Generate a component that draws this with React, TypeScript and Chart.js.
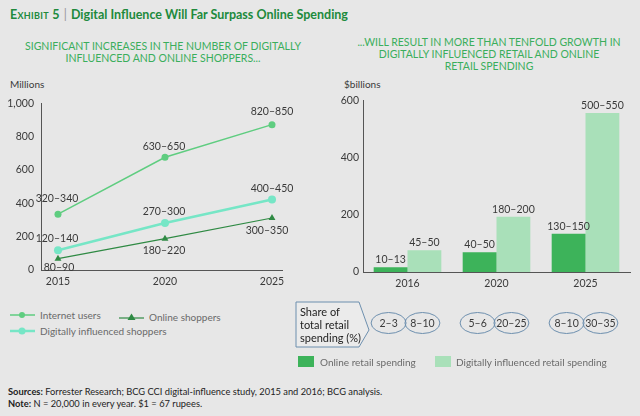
import React, { useEffect, useRef } from 'react';
import { Chart, registerables } from 'chart.js';
Chart.register(...registerables);

// ---------- Data ----------
const years = [2015, 2020, 2025];
const internetUsers = [335, 676, 872];
const digitallyInfluenced = [118, 282, 423];
const onlineShoppers = [68, 188, 312];
const internetLabels = ['320–340', '630–650', '820–850'];
const digitalLabels = ['120–140', '270–300', '400–450'];
const onlineLabels = ['80–90', '180–220', '300–350'];
const millionsTicks = [0, 200, 400, 600, 800, 1000];

const spendYears = ['2016', '2020', '2025'];
const onlineSpending = [17, 69, 134];
const digitalSpending = [76, 193, 556];
const onlineSpendLabels = ['10–13', '40–50', '130–150'];
const digitalSpendLabels = ['45–50', '180–200', '500–550'];
const onlineShare = ['2–3', '5–6', '8–10'];
const digitalShare = ['8–10', '20–25', '30–35'];
const billionsTicks = [0, 200, 400, 600];

// ---------- Styles ----------
const FONT = 'Lato, "Open Sans", sans-serif';
const C_INTERNET = '#5fcd80';
const C_DIGITAL = '#76e6c6';
const C_ONLINE = '#2f8a44';
const C_BAR_DARK = '#3db35a';
const C_BAR_LIGHT = '#a9e0b9';
const C_AXIS = '#555555';
const C_TEXT = '#3a3a3a';

const lineLabelOffsets = [
  [[-1, -16], [-1, -11], [0, -13]],
  [[-1, -12], [-1, -11], [0, -11]],
  [[1, 9], [-1, 12], [-5, 13]],
];

function LeftChart() {
  const ref = useRef<HTMLCanvasElement>(null);
  useEffect(() => {
    const labelSets = [internetLabels, digitalLabels, onlineLabels];
    const labelPlugin = {
      id: 'lineLabels',
      afterDatasetsDraw(chart: any) {
        const ctx = chart.ctx;
        ctx.save();
        ctx.font = `10.5px ${FONT}`;
        ctx.fillStyle = C_TEXT;
        ctx.textAlign = 'center';
        ctx.textBaseline = 'middle';
        chart.data.datasets.forEach((_: any, i: number) => {
          const meta = chart.getDatasetMeta(i);
          meta.data.forEach((pt: any, j: number) => {
            const [dx, dy] = lineLabelOffsets[i][j];
            ctx.fillText(labelSets[i][j], pt.x + dx, pt.y + dy);
          });
        });
        ctx.restore();
      },
    };
    const chart = new Chart(ref.current as HTMLCanvasElement, {
      type: 'line',
      data: {
        datasets: [
          {
            label: 'Internet users',
            data: years.map((y, i) => ({ x: y, y: internetUsers[i] })),
            borderColor: C_INTERNET,
            backgroundColor: C_INTERNET,
            borderWidth: 1.5,
            pointRadius: 3.5,
            pointBorderWidth: 0,
          },
          {
            label: 'Digitally influenced shoppers',
            data: years.map((y, i) => ({ x: y, y: digitallyInfluenced[i] })),
            borderColor: C_DIGITAL,
            backgroundColor: C_DIGITAL,
            borderWidth: 2.5,
            pointRadius: 4,
            pointBorderWidth: 0,
          },
          {
            label: 'Online shoppers',
            data: years.map((y, i) => ({ x: y, y: onlineShoppers[i] })),
            borderColor: C_ONLINE,
            backgroundColor: C_ONLINE,
            borderWidth: 1.2,
            pointStyle: 'triangle',
            pointRadius: 4,
            pointBorderWidth: 0,
          },
        ],
      },
      options: {
        responsive: false,
        animation: false,
        maintainAspectRatio: false,
        layout: { padding: { top: 10, right: 18, bottom: 0, left: 0 } },
        plugins: { legend: { display: false }, tooltip: { enabled: false } },
        scales: {
          x: {
            type: 'linear',
            min: 2014.206,
            max: 2025.467,
            grid: { display: false, drawTicks: false },
            border: { display: true, color: C_AXIS, width: 1 },
            afterBuildTicks: (s: any) => {
              s.ticks = years.map((v) => ({ value: v }));
            },
            afterFit: (s: any) => {
              s.height = 25;
            },
            ticks: {
              callback: (v: any) => String(v),
              font: { family: FONT, size: 10.5 },
              color: C_TEXT,
              padding: 5,
              maxRotation: 0,
              autoSkip: false,
            },
          },
          y: {
            min: 0,
            max: 1000,
            grid: { display: false, drawTicks: false },
            border: { display: true, color: C_AXIS, width: 1 },
            afterBuildTicks: (s: any) => {
              s.ticks = millionsTicks.map((v) => ({ value: v }));
            },
            afterFit: (s: any) => {
              s.width = 41;
            },
            ticks: {
              callback: (v: any) => Number(v).toLocaleString('en-US'),
              font: { family: FONT, size: 10.5 },
              color: C_TEXT,
              padding: 7,
            },
          },
        },
      },
      plugins: [labelPlugin],
    } as any);
    return () => chart.destroy();
  }, []);
  return (
    <canvas
      ref={ref}
      width={300}
      height={205}
      style={{ position: 'absolute', left: 0, top: 90, width: 300, height: 205 }}
    />
  );
}

function RightChart() {
  const ref = useRef<HTMLCanvasElement>(null);
  useEffect(() => {
    const barLabels = [onlineSpendLabels, digitalSpendLabels];
    const shares = [onlineShare, digitalShare];
    const plugin = {
      id: 'barLabels',
      afterDatasetsDraw(chart: any) {
        const ctx = chart.ctx;
        const area = chart.chartArea;
        ctx.save();
        ctx.font = `10.5px ${FONT}`;
        ctx.textAlign = 'center';
        chart.data.datasets.forEach((_: any, i: number) => {
          const meta = chart.getDatasetMeta(i);
          meta.data.forEach((bar: any, j: number) => {
            ctx.fillStyle = C_TEXT;
            ctx.textBaseline = 'bottom';
            ctx.fillText(barLabels[i][j], bar.x, bar.y - 2);
            // share ellipse
            const cy = area.bottom + 51;
            ctx.beginPath();
            ctx.ellipse(bar.x - 2, cy, 17.5, 10.5, 0, 0, Math.PI * 2);
            ctx.strokeStyle = '#6d8fae';
            ctx.lineWidth = 1;
            ctx.stroke();
            ctx.textBaseline = 'middle';
            ctx.fillStyle = C_TEXT;
            ctx.fillText(shares[i][j], bar.x - 2, cy + 0.5);
          });
        });
        ctx.restore();
      },
    };
    const chart = new Chart(ref.current as HTMLCanvasElement, {
      type: 'bar',
      data: {
        labels: spendYears,
        datasets: [
          { label: 'Online retail spending', data: onlineSpending, backgroundColor: C_BAR_DARK },
          { label: 'Digitally influenced retail spending', data: digitalSpending, backgroundColor: C_BAR_LIGHT },
        ],
      },
      options: {
        responsive: false,
        animation: false,
        maintainAspectRatio: false,
        categoryPercentage: 0.76,
        barPercentage: 1.0,
        layout: { padding: { top: 8, right: 10, bottom: 55, left: 30 } },
        plugins: { legend: { display: false }, tooltip: { enabled: false } },
        scales: {
          x: {
            grid: { display: false, drawTicks: false },
            border: { display: true, color: C_AXIS, width: 1 },
            afterFit: (s: any) => {
              s.height = 23;
            },
            ticks: {
              font: { family: FONT, size: 10.5 },
              color: C_TEXT,
              padding: 5,
              maxRotation: 0,
            },
          },
          y: {
            min: 0,
            max: 600,
            grid: { display: false, drawTicks: false },
            border: { display: true, color: C_AXIS, width: 1 },
            afterBuildTicks: (s: any) => {
              s.ticks = billionsTicks.map((v) => ({ value: v }));
            },
            afterFit: (s: any) => {
              s.width = 43;
            },
            ticks: {
              font: { family: FONT, size: 10.5 },
              color: C_TEXT,
              padding: 4,
            },
          },
        },
      },
      plugins: [plugin],
    } as any);
    return () => chart.destroy();
  }, []);
  return (
    <canvas
      ref={ref}
      width={350}
      height={260}
      style={{ position: 'absolute', left: 290, top: 90, width: 350, height: 260 }}
    />
  );
}

const abs = (l: number, t: number, extra: React.CSSProperties = {}): React.CSSProperties => ({
  position: 'absolute',
  left: l,
  top: t,
  whiteSpace: 'nowrap',
  ...extra,
});

export default function App() {
  const legendText: React.CSSProperties = { fontSize: 10, color: '#6a6a6a', lineHeight: '14px' };
  return (
    <div
      style={{
        position: 'fixed',
        left: 0,
        top: 0,
        width: 640,
        height: 416,
        background: '#e7e7e7',
        fontFamily: FONT,
        overflow: 'hidden',
      }}
    >
      {/* Title */}
      <div style={abs(10, 5, { fontSize: 12.5, fontWeight: 700, color: '#208a3c', lineHeight: '20px' })}>
        <span style={{ fontVariant: 'small-caps', letterSpacing: 0.3 }}>Exhibit 5</span>
        <span style={{ color: '#999', fontWeight: 400, margin: '0 4px' }}>|</span>
        Digital Influence Will Far Surpass Online Spending
      </div>

      {/* Subtitles */}
      <div
        style={abs(13, 40, {
          width: 300,
          textAlign: 'center',
          fontSize: 10.5,
          lineHeight: '12px',
          color: '#3aae5c',
          whiteSpace: 'normal',
        })}
      >
        SIGNIFICANT INCREASES IN THE NUMBER OF DIGITALLY
        <br />
        INFLUENCED AND ONLINE SHOPPERS...
      </div>
      <div
        style={abs(336, 36, {
          width: 306,
          textAlign: 'center',
          fontSize: 10.5,
          lineHeight: '12px',
          color: '#3aae5c',
          whiteSpace: 'normal',
        })}
      >
        ...WILL RESULT IN MORE THAN TENFOLD GROWTH IN
        <br />
        DIGITALLY INFLUENCED RETAIL AND ONLINE
        <br />
        RETAIL SPENDING
      </div>

      {/* Axis units */}
      <div style={abs(10, 78, { fontSize: 10, color: C_TEXT, lineHeight: '12px' })}>Millions</div>
      <div style={abs(344, 78, { fontSize: 10, color: C_TEXT, lineHeight: '12px' })}>$billions</div>

      <LeftChart />
      <RightChart />

      {/* Left legend */}
      <svg style={abs(0, 300)} width={160} height={40}>
        <line x1={10} y1={15} x2={35} y2={15} stroke={C_INTERNET} strokeWidth={1.5} />
        <circle cx={22} cy={15} r={3} fill={C_INTERNET} />
        <line x1={10} y1={31} x2={35} y2={31} stroke={C_DIGITAL} strokeWidth={2.5} />
        <circle cx={22} cy={31} r={3.5} fill={C_DIGITAL} />
        <line x1={119} y1={18} x2={144} y2={18} stroke={C_ONLINE} strokeWidth={1.2} />
        <polygon points="131.5,13.5 135.5,20 127.5,20" fill={C_ONLINE} />
      </svg>
      <div style={abs(40, 308, legendText)}>Internet users</div>
      <div style={abs(149, 310, legendText)}>Online shoppers</div>
      <div style={abs(40, 324, legendText)}>Digitally influenced shoppers</div>

      {/* Share box */}
      <svg style={abs(295, 301)} width={80} height={48}>
        <polygon
          points="1,1 64,1 74,29 64,46 1,46"
          fill="#ebebeb"
          stroke="#6d8fae"
          strokeWidth={1}
        />
      </svg>
      <div style={abs(300, 305, { fontSize: 11, color: '#222', lineHeight: '13px', whiteSpace: 'normal' })}>
        Share of
        <br />
        total retail
        <br />
        spending (%)
      </div>

      {/* Right legend */}
      <div style={abs(298, 356, { width: 16, height: 11, background: C_BAR_DARK })} />
      <div style={abs(320, 354.5, legendText)}>Online retail spending</div>
      <div style={abs(435, 356, { width: 16, height: 11, background: C_BAR_LIGHT })} />
      <div style={abs(456, 354.5, legendText)}>Digitally influenced retail spending</div>

      {/* Sources */}
      <div style={abs(8, 386, { fontSize: 9.3, color: '#222', lineHeight: '12px' })}>
        <b>Sources:</b> Forrester Research; BCG CCI digital-influence study, 2015 and 2016; BCG analysis.
        <br />
        <b>Note:</b> N = 20,000 in every year. $1 = 67 rupees.
      </div>
    </div>
  );
}
